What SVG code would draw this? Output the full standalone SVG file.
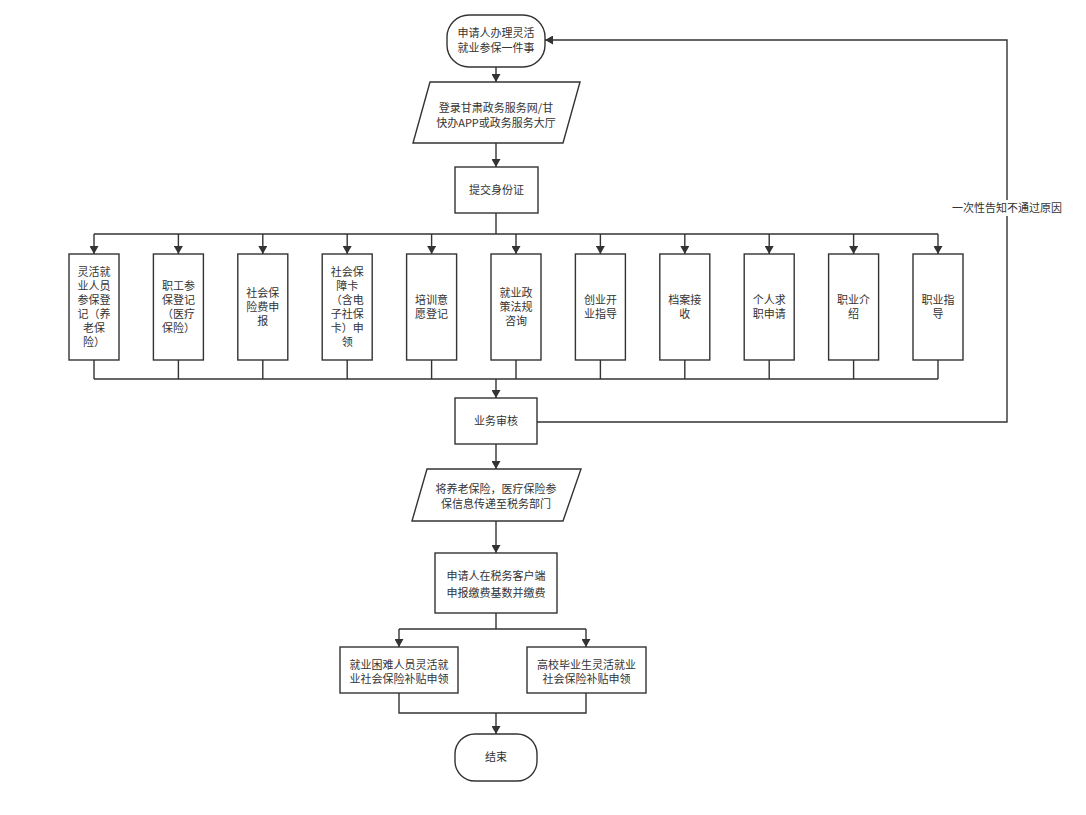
<svg xmlns="http://www.w3.org/2000/svg" width="1086" height="815" viewBox="0 0 1086 815">
<style>
.n{fill:#fff;stroke:#333;stroke-width:1.4}
.t{font-family:"Noto Sans CJK SC","Noto Sans",sans-serif;font-size:11px;fill:#333;text-anchor:middle}
.c{fill:none;stroke:#333;stroke-width:1.4}
</style>
<defs>
<marker id="arr" markerUnits="userSpaceOnUse" markerWidth="8" markerHeight="9" refX="8" refY="4.5" orient="auto">
<path d="M0,0 L8,4.5 L0,9 z" fill="#333"/>
</marker>
</defs>
<rect width="1086" height="815" fill="#fff"/>
<g id="connectors">
<path class="c" d="M496,67 V82" marker-end="url(#arr)"/>
<path class="c" d="M496,143 V167" marker-end="url(#arr)"/>
<path class="c" d="M496,213 V234"/>
<path class="c" d="M94,234 H938"/>
<path class="c" d="M94,234 V254" marker-end="url(#arr)"/>
<path class="c" d="M178.4,234 V254" marker-end="url(#arr)"/>
<path class="c" d="M262.8,234 V254" marker-end="url(#arr)"/>
<path class="c" d="M347.2,234 V254" marker-end="url(#arr)"/>
<path class="c" d="M431.6,234 V254" marker-end="url(#arr)"/>
<path class="c" d="M516,234 V254" marker-end="url(#arr)"/>
<path class="c" d="M600.4,234 V254" marker-end="url(#arr)"/>
<path class="c" d="M684.8,234 V254" marker-end="url(#arr)"/>
<path class="c" d="M769.2,234 V254" marker-end="url(#arr)"/>
<path class="c" d="M853.6,234 V254" marker-end="url(#arr)"/>
<path class="c" d="M938,234 V254" marker-end="url(#arr)"/>
<path class="c" d="M94,360 V379 M178.4,360 V379 M262.8,360 V379 M347.2,360 V379 M431.6,360 V379 M516,360 V379 M600.4,360 V379 M684.8,360 V379 M769.2,360 V379 M853.6,360 V379 M938,360 V379"/>
<path class="c" d="M94,379 H938"/>
<path class="c" d="M496,379 V398" marker-end="url(#arr)"/>
<path class="c" d="M537,422 H1007 V40 H545" marker-end="url(#arr)"/>
<rect x="952" y="200" width="110" height="16" fill="#fff"/>
<text class="t" x="1007" y="212">一次性告知不通过原因</text>
<path class="c" d="M496,444 V469" marker-end="url(#arr)"/>
<path class="c" d="M496,521 V553" marker-end="url(#arr)"/>
<path class="c" d="M496,613 V629 M399,629 H586"/>
<path class="c" d="M399,629 V647" marker-end="url(#arr)"/>
<path class="c" d="M586,629 V647" marker-end="url(#arr)"/>
<path class="c" d="M399,693 V713 H586 V693"/>
<path class="c" d="M496,713 V734" marker-end="url(#arr)"/>
</g>
<g id="start">
<rect class="n" x="447" y="15" width="98" height="52" rx="22"/>
<text class="t" x="496" y="37">申请人办理灵活</text>
<text class="t" x="496" y="52">就业参保一件事</text>
</g>
<g id="login">
<path class="n" d="M430,82 H580 L563,143 H413 Z"/>
<text class="t" x="496" y="112">登录甘肃政务服务网/甘</text>
<text class="t" x="496" y="127">快办APP或政务服务大厅</text>
</g>
<g id="idcard">
<rect class="n" x="455" y="167" width="83" height="46"/>
<text class="t" x="496.5" y="194">提交身份证</text>
</g>
<g id="b1">
<rect class="n" x="69" y="254" width="50" height="106"/>
<text class="t" x="94" y="276">灵活就</text>
<text class="t" x="94" y="290">业人员</text>
<text class="t" x="94" y="304">参保登</text>
<text class="t" x="94" y="318">记（养</text>
<text class="t" x="94" y="332">老保</text>
<text class="t" x="94" y="346">险）</text>
</g>
<g id="b2">
<rect class="n" x="153.4" y="254" width="50" height="106"/>
<text class="t" x="178.4" y="290">职工参</text>
<text class="t" x="178.4" y="304">保登记</text>
<text class="t" x="178.4" y="318">（医疗</text>
<text class="t" x="178.4" y="332">保险）</text>
</g>
<g id="b3">
<rect class="n" x="237.8" y="254" width="50" height="106"/>
<text class="t" x="262.8" y="297">社会保</text>
<text class="t" x="262.8" y="311">险费申</text>
<text class="t" x="262.8" y="325">报</text>
</g>
<g id="b4">
<rect class="n" x="322.2" y="254" width="50" height="106"/>
<text class="t" x="347.2" y="276">社会保</text>
<text class="t" x="347.2" y="290">障卡</text>
<text class="t" x="347.2" y="304">（含电</text>
<text class="t" x="347.2" y="318">子社保</text>
<text class="t" x="347.2" y="332">卡）申</text>
<text class="t" x="347.2" y="346">领</text>
</g>
<g id="b5">
<rect class="n" x="406.6" y="254" width="50" height="106"/>
<text class="t" x="431.6" y="304">培训意</text>
<text class="t" x="431.6" y="318">愿登记</text>
</g>
<g id="b6">
<rect class="n" x="491" y="254" width="50" height="106"/>
<text class="t" x="516" y="297">就业政</text>
<text class="t" x="516" y="311">策法规</text>
<text class="t" x="516" y="325">咨询</text>
</g>
<g id="b7">
<rect class="n" x="575.4" y="254" width="50" height="106"/>
<text class="t" x="600.4" y="304">创业开</text>
<text class="t" x="600.4" y="318">业指导</text>
</g>
<g id="b8">
<rect class="n" x="659.8" y="254" width="50" height="106"/>
<text class="t" x="684.8" y="304">档案接</text>
<text class="t" x="684.8" y="318">收</text>
</g>
<g id="b9">
<rect class="n" x="744.2" y="254" width="50" height="106"/>
<text class="t" x="769.2" y="304">个人求</text>
<text class="t" x="769.2" y="318">职申请</text>
</g>
<g id="b10">
<rect class="n" x="828.6" y="254" width="50" height="106"/>
<text class="t" x="853.6" y="304">职业介</text>
<text class="t" x="853.6" y="318">绍</text>
</g>
<g id="b11">
<rect class="n" x="913" y="254" width="50" height="106"/>
<text class="t" x="938" y="304">职业指</text>
<text class="t" x="938" y="318">导</text>
</g>
<g id="review">
<rect class="n" x="455" y="398" width="82" height="46"/>
<text class="t" x="496" y="425">业务审核</text>
</g>
<g id="transfer">
<path class="n" d="M427,469 H581 L563,521 H412 Z"/>
<text class="t" x="496" y="493">将养老保险，医疗保险参</text>
<text class="t" x="496" y="508">保信息传递至税务部门</text>
</g>
<g id="declare">
<rect class="n" x="435" y="553" width="122" height="60"/>
<text class="t" x="496" y="580">申请人在税务客户端</text>
<text class="t" x="496" y="597">申报缴费基数并缴费</text>
</g>
<g id="subsidy1">
<rect class="n" x="340" y="647" width="118" height="46"/>
<text class="t" x="399" y="669">就业困难人员灵活就</text>
<text class="t" x="399" y="683">业社会保险补贴申领</text>
</g>
<g id="subsidy2">
<rect class="n" x="527" y="647" width="119" height="46"/>
<text class="t" x="586.5" y="669">高校毕业生灵活就业</text>
<text class="t" x="586.5" y="683">社会保险补贴申领</text>
</g>
<g id="end">
<rect class="n" x="455" y="734" width="82" height="47" rx="20"/>
<text class="t" x="496" y="761">结束</text>
</g>
</svg>
